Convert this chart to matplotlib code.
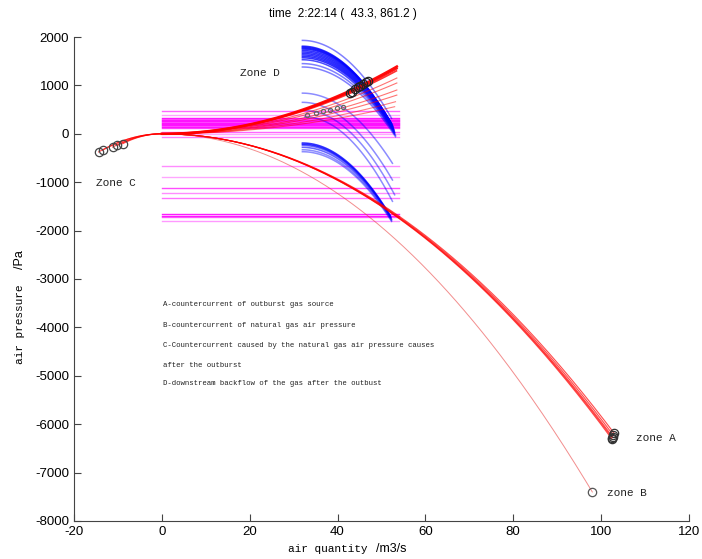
import numpy as np
import matplotlib
matplotlib.use("Agg")
import matplotlib.pyplot as plt

plt.rcParams['font.family'] = ['Liberation Sans', 'DejaVu Sans']
plt.rcParams['axes.unicode_minus'] = False

# natural gas pressure levels (horizontal lines, x from 0 to ~54)
natural_p = [461, 392, 320, 300, 280, 260, 240, 220, 200, 180, 160, 140, 120,
             43, -10, -72, -665, -886, -1113, -1230, -1333, -1663, -1690, -1712, -1801]
natural_alpha = [0.6, 0.35, 0.9, 0.6, 0.9, 0.9, 0.6, 0.9, 0.9, 0.9, 0.6, 0.9, 0.7,
                 0.6, 0.35, 0.5, 0.45, 0.35, 0.7, 0.45, 0.55, 0.9, 0.9, 0.6, 0.4]
natural_xmax = 54

# fan curves: start (x, p) is the vertex, end (x, p)
fan_x0 = [32, 32, 32, 32, 32, 32, 32, 32, 32, 32, 32, 32, 32, 32,
          32, 32, 32.5, 32.5,
          32, 32, 32, 32, 32, 32]
fan_p0 = [1930, 1810, 1790, 1770, 1750, 1720, 1690, 1660, 1630, 1600, 1570, 1530, 1450, 1380,
          840, 650, 480, 350,
          -190, -215, -240, -280, -330, -370]
fan_x1 = [52.3, 51.6, 51.9, 52.1, 52.3, 52.5, 52.6, 52.7, 52.8, 52.9, 53, 53, 53.2, 53.2,
          52.5, 52.5, 53, 52.5,
          52.0, 52.1, 52.2, 52.3, 52.3, 52.3]
fan_p1 = [320, 300, 270, 240, 210, 180, 150, 120, 90, 60, 30, 0, -30, -60,
          -610, -955, -1260, -1395,
          -1690, -1720, -1740, -1770, -1790, -1810]
fan_alpha = [0.5, 0.8, 0.8, 0.8, 0.8, 0.8, 0.8, 0.8, 0.8, 0.8, 0.8, 0.7, 0.5, 0.5,
             0.45, 0.45, 0.45, 0.45,
             0.8, 0.8, 0.6, 0.6, 0.45, 0.45]

# zone A / B resistance curves y = -R x^2, ending at (x_end, p_end)
a_xend = [102.4, 102.6, 102.8, 103.0, 102.5]
a_pend = [-6300, -6260, -6230, -6190, -6280]
b_xend = [98.0]
b_pend = [-7400]

# zone C curves (negative air quantity)
c_xend = [-14.4, -13.5, -11.2, -10.1, -8.9]
c_pend = [-375, -340, -275, -240, -205]

# zone D curves y = +R x^2
d_xend = [53.5, 53.5, 53.4, 53.5, 53.5, 53.5, 53.5, 53.2, 53.0]
d_pend = [1390, 1350, 1300, 1153, 1050, 905, 800, 663, 560]
d_width = [1.8, 1.5, 1.2, 0.8, 0.8, 0.8, 0.8, 0.8, 0.8]
d_alpha = [0.95, 0.9, 0.8, 0.55, 0.55, 0.55, 0.55, 0.5, 0.5]

# operating points (circles)
d_pts_x = [42.8, 43.3, 44.0, 44.6, 45.2, 45.8, 46.5, 47.0]
d_pts_y = [850, 861, 930, 960, 995, 1020, 1070, 1100]
small_pts_x = [33.0, 35.0, 36.8, 38.3, 39.8, 41.2]
small_pts_y = [390, 430, 470, 500, 530, 560]

current_x, current_y = 43.3, 861.2

fig = plt.figure(figsize=(7.02, 5.59), dpi=100)
ax = fig.add_axes([0.1054, 0.068, 0.876, 0.8658])

for p, al in zip(natural_p, natural_alpha):
    ax.plot([0, natural_xmax], [p, p], color='magenta', lw=1.0, alpha=al)

for x0, p0, x1, p1, al in zip(fan_x0, fan_p0, fan_x1, fan_p1, fan_alpha):
    q = np.linspace(x0, x1, 80)
    k = (p0 - p1) / (x1 - x0) ** 2
    ax.plot(q, p0 - k * (q - x0) ** 2, color='blue', lw=1.1, alpha=al)

for xe, pe in zip(a_xend, a_pend):
    q = np.linspace(0, xe, 200)
    ax.plot(q, pe / xe ** 2 * q ** 2, color='red', lw=0.8, alpha=0.7)
for xe, pe in zip(b_xend, b_pend):
    q = np.linspace(0, xe, 200)
    ax.plot(q, pe / xe ** 2 * q ** 2, color='#e83030', lw=0.7, alpha=0.55)
for xe, pe in zip(c_xend, c_pend):
    q = np.linspace(xe, 0, 50)
    ax.plot(q, pe / xe ** 2 * q ** 2, color='red', lw=0.8, alpha=0.7)
for xe, pe, lw, al in zip(d_xend, d_pend, d_width, d_alpha):
    q = np.linspace(0, xe, 120)
    ax.plot(q, pe / xe ** 2 * q ** 2, color='red', lw=lw, alpha=al)

circ = dict(ls='none', marker='o', mfc='none', mew=0.9)
ax.plot(d_pts_x, d_pts_y, ms=6, mec='#222222', **circ)
ax.plot(small_pts_x, small_pts_y, ms=3, mec='#666666', **circ)
ax.plot(c_xend, c_pend, ms=6, mec='#444444', **circ)
ax.plot(a_xend, a_pend, ms=6, mec='#333333', **circ)
ax.plot(b_xend, b_pend, ms=6, mec='#555555', **circ)

mono = ['Liberation Mono', 'DejaVu Sans Mono']
ax.text(17.7, 1256, 'Zone D', family=mono, fontsize=8, va='center', color='#222222')
ax.text(-15, -1017, 'Zone C', family=mono, fontsize=8, va='center', color='#222222')
ax.text(108, -6285, 'zone A', family=mono, fontsize=8, va='center', color='#222222')
ax.text(101.3, -7426, 'zone B', family=mono, fontsize=8, va='center', color='#222222')

notes = ['A-countercurrent of outburst gas source',
         'B-countercurrent of natural gas air pressure',
         'C-Countercurrent caused by the natural gas air pressure causes',
         'after the outburst',
         'D-downstream backflow of the gas after the outbust']
notes_y = [-3517, -3971, -4364, -4777, -5169]
for s, yy in zip(notes, notes_y):
    ax.text(0.2, yy, s, family=mono, fontsize=5.3, va='center', color='#222222')

ax.set_xlim(-20, 120)
ax.set_ylim(-8000, 2000)
ax.set_xticks(range(-20, 121, 20))
ax.set_yticks(range(-8000, 2001, 1000))
ax.tick_params(direction='in', length=5, labelsize=9.5, width=0.8, color='#444444')
ax.spines['top'].set_visible(False)
ax.spines['right'].set_visible(False)
for s in ['left', 'bottom']:
    ax.spines[s].set_color('#444444')
    ax.spines[s].set_linewidth(0.8)

fig.text(343 / 702, 1 - 14 / 559, 'time  2:22:14 (  %.1f, %.1f )' % (current_x, current_y),
         ha='center', va='center', fontsize=8.5)

# axis labels: mixed fonts as in the source figure
fig.text(368 / 702, 1 - 549 / 559, 'air quantity', family=mono, fontsize=8,
         ha='right', va='center')
fig.text(376 / 702, 1 - 549 / 559, '/m3/s', fontsize=9, ha='left', va='center')
fig.text(20 / 702, 1 - 324 / 559, 'air pressure', family=mono, fontsize=8,
         ha='center', va='center', rotation=90)
fig.text(20 / 702, 1 - 260 / 559, '/Pa', fontsize=9, ha='center', va='center', rotation=90)

fig.savefig('out.png', dpi=100)
